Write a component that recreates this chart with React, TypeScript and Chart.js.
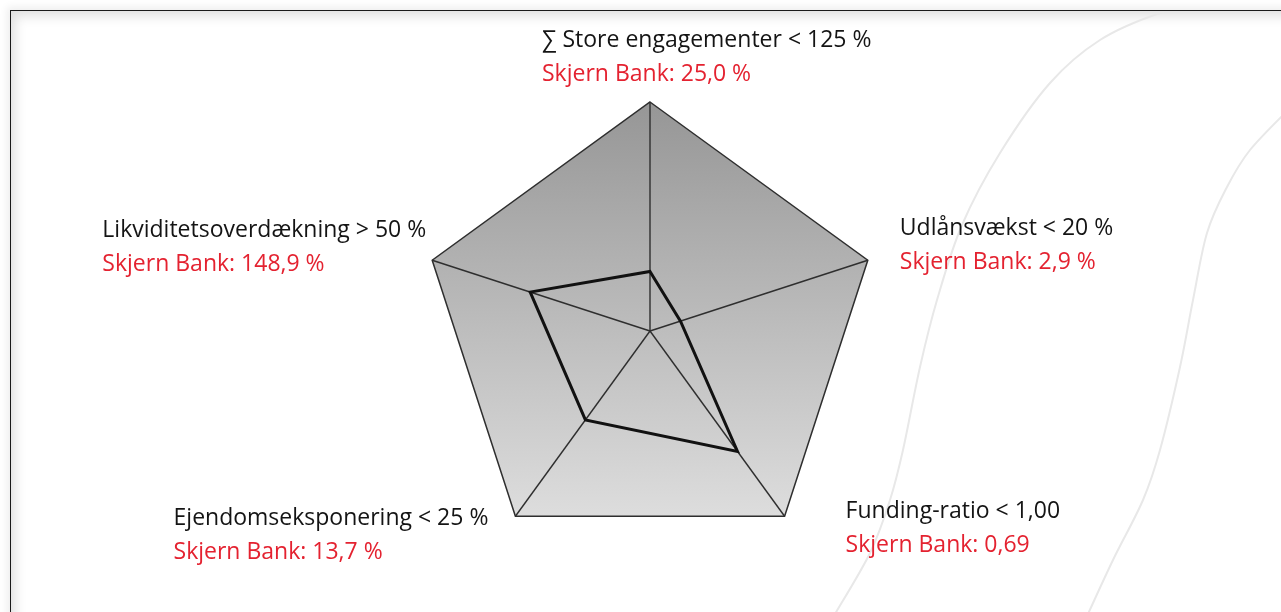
import { useEffect, useRef } from "react";
import { Chart, registerables } from "chart.js";

Chart.register(...registerables);

// ---- data ----
const criteria = [
  "∑ Store engagementer < 125 %",
  "Udlånsvækst < 20 %",
  "Funding-ratio < 1,00",
  "Ejendomseksponering < 25 %",
  "Likviditetsoverdækning > 50 %",
];
const bankLabels = [
  "Skjern Bank: 25,0 %",
  "Skjern Bank: 2,9 %",
  "Skjern Bank: 0,69",
  "Skjern Bank: 13,7 %",
  "Skjern Bank: 148,9 %",
];
// where the bank's line crosses each spoke, as a share of the limit (outer pentagon)
const bankShare = [0.26, 0.14, 0.65, 0.48, 0.55];
const limitRing = [0, 1];

// ---- styling / layout ----
const LABEL_FONT = '23px "Open Sans", "Noto Sans", sans-serif';
const BLACK = "#141414";
const RED = "#e42230";
const LINE_GAP = 33.5;
// offsets of each label block from its pentagon corner (dy = first baseline)
const labelPlacement = [
  { dx: -108, dy: -55, side: "left" },
  { dx: 32, dy: -25, side: "left" },
  { dx: 61, dy: 2, side: "left" },
  { dx: -27, dy: 9, side: "right" },
  { dx: -6, dy: -23, side: "right" },
];
const swirlA = [
  [1222, -2], [1160, 13], [1100, 40], [1050, 83], [1000, 153], [962, 225],
  [937, 300], [920, 367], [903, 450], [890, 500], [870, 553], [835, 614],
];
const swirlB = [
  [1290, 108], [1250, 150], [1227, 187], [1207, 233], [1193, 300], [1180, 367],
  [1160, 450], [1143, 500], [1113, 560], [1088, 614],
];

function strokeSmooth(ctx: CanvasRenderingContext2D, pts: number[][]) {
  ctx.beginPath();
  ctx.moveTo(pts[0][0], pts[0][1]);
  for (let i = 0; i < pts.length - 1; i++) {
    const p0 = pts[Math.max(0, i - 1)];
    const p1 = pts[i];
    const p2 = pts[i + 1];
    const p3 = pts[Math.min(pts.length - 1, i + 2)];
    const c1x = p1[0] + (p2[0] - p0[0]) / 6;
    const c1y = p1[1] + (p2[1] - p0[1]) / 6;
    const c2x = p2[0] - (p3[0] - p1[0]) / 6;
    const c2y = p2[1] - (p3[1] - p1[1]) / 6;
    ctx.bezierCurveTo(c1x, c1y, c2x, c2y, p2[0], p2[1]);
  }
  ctx.stroke();
}

const backdropPlugin = {
  id: "backdrop",
  beforeDraw(chart: any) {
    const { ctx } = chart;
    const r = chart.scales.r;
    ctx.save();
    // decorative swirls (kept below the frame line)
    ctx.beginPath();
    ctx.rect(11, 12, chart.width, chart.height);
    ctx.clip();
    ctx.strokeStyle = "#e8e8e8";
    ctx.lineWidth = 2;
    strokeSmooth(ctx, swirlA);
    strokeSmooth(ctx, swirlB);
    ctx.restore();
    ctx.save();
    // gradient-filled limit pentagon
    const n = chart.data.labels.length;
    const pts = [];
    for (let i = 0; i < n; i++) pts.push(r.getPointPosition(i, r.drawingArea));
    const top = Math.min(...pts.map((p: any) => p.y));
    const bottom = Math.max(...pts.map((p: any) => p.y));
    const g = ctx.createLinearGradient(0, top, 0, bottom);
    g.addColorStop(0, "#969696");
    g.addColorStop(1, "#dddddd");
    ctx.beginPath();
    pts.forEach((p: any, i: number) => (i ? ctx.lineTo(p.x, p.y) : ctx.moveTo(p.x, p.y)));
    ctx.closePath();
    ctx.fillStyle = g;
    ctx.fill();
    ctx.restore();
  },
};

const labelPlugin = {
  id: "twoLineLabels",
  afterDraw(chart: any) {
    const { ctx } = chart;
    const r = chart.scales.r;
    ctx.save();
    ctx.font = LABEL_FONT;
    ctx.textAlign = "left";
    ctx.textBaseline = "alphabetic";
    criteria.forEach((txt, i) => {
      const p = r.getPointPosition(i, r.drawingArea);
      const lp = labelPlacement[i];
      const w = ctx.measureText(txt).width;
      const x = lp.side === "right" ? p.x + lp.dx - w : p.x + lp.dx;
      const y = p.y + lp.dy;
      ctx.fillStyle = BLACK;
      ctx.fillText(txt, x, y);
      ctx.fillStyle = RED;
      ctx.fillText(bankLabels[i], x, y + LINE_GAP);
    });
    ctx.restore();
  },
};

export default function App() {
  const canvasRef = useRef<HTMLCanvasElement | null>(null);

  useEffect(() => {
    const canvas = canvasRef.current;
    if (!canvas) return;
    const chart = new Chart(canvas, {
      type: "radar",
      data: {
        labels: criteria,
        datasets: [
          {
            label: "Skjern Bank",
            data: bankShare,
            borderColor: "#111111",
            borderWidth: 3,
            backgroundColor: "rgba(0,0,0,0)",
            fill: false,
            pointRadius: 0,
            pointHoverRadius: 0,
            borderJoinStyle: "miter",
            tension: 0,
          },
        ],
      },
      options: {
        responsive: false,
        animation: false,
        events: [],
        layout: { padding: { left: 421, right: 402, top: 102, bottom: 52 } },
        plugins: {
          legend: { display: false },
          tooltip: { enabled: false },
          title: { display: false },
        },
        scales: {
          r: {
            min: limitRing[0],
            max: limitRing[1],
            ticks: { display: false, stepSize: 1 },
            grid: { color: "#2e2e2e", lineWidth: 1.5 },
            angleLines: { color: "#2e2e2e", lineWidth: 1.4 },
            pointLabels: { display: false },
          },
        },
      },
      plugins: [backdropPlugin, labelPlugin],
    });
    return () => chart.destroy();
  }, []);

  return (
    <div
      style={{
        position: "fixed",
        left: 0,
        top: 0,
        width: 1281,
        height: 612,
        overflow: "hidden",
        background: "#ffffff",
      }}
    >
      <div
        style={{
          position: "absolute",
          left: 10,
          top: 10,
          width: 1400,
          height: 800,
          borderLeft: "1.5px solid #1a1a1a",
          borderTop: "1.5px solid #1a1a1a",
          boxShadow:
            "inset 8px 9px 12px -4px rgba(0,0,0,0.13), -3px -3px 8px rgba(0,0,0,0.07)",
        }}
      />
      <canvas
        ref={canvasRef}
        width={1281}
        height={612}
        style={{ position: "absolute", left: 0, top: 0, width: 1281, height: 612 }}
      />
    </div>
  );
}
